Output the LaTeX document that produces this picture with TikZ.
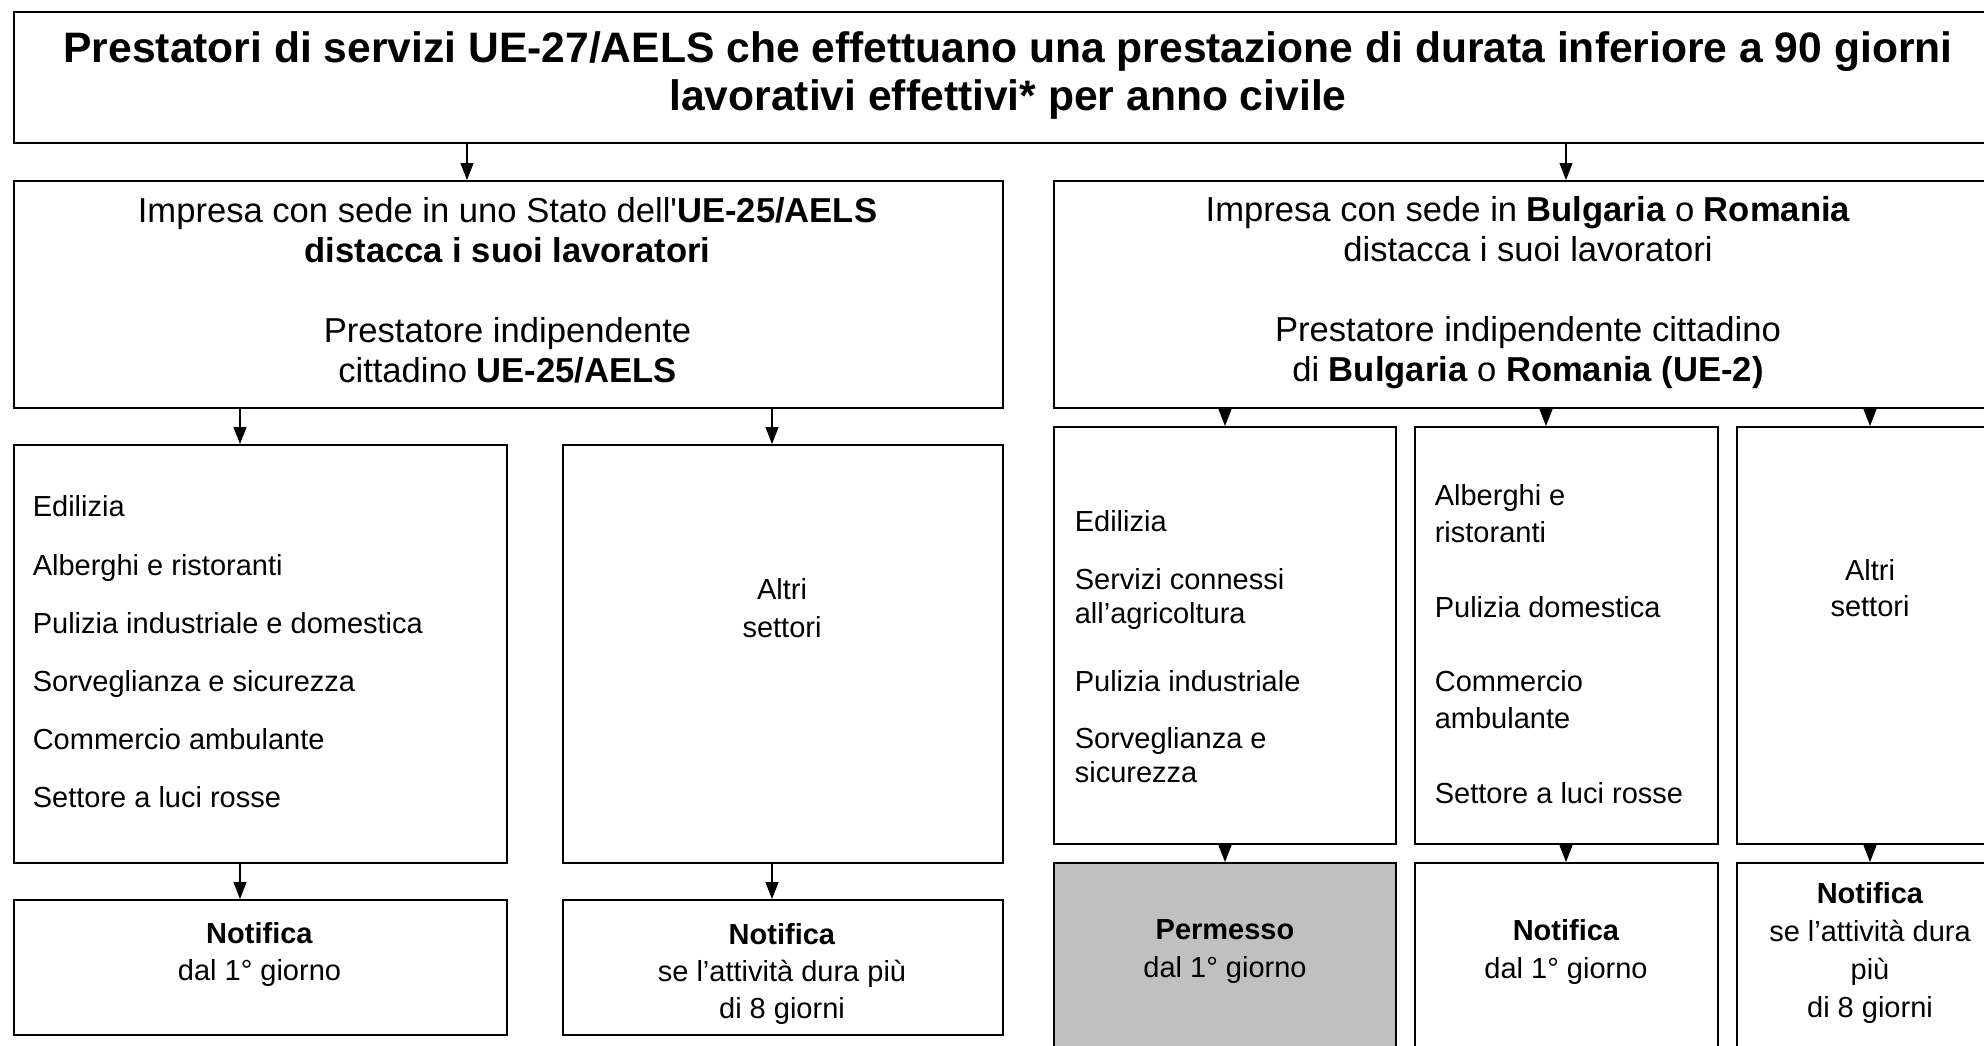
\documentclass[tikz,border=0pt]{standalone}
\usepackage{fontspec}
\setmainfont{Liberation Sans}[Ligatures=TeXOff]
\usepackage{tikz}
\usetikzlibrary{arrows.meta}
\definecolor{grigio}{RGB}{192,192,192}

\newcommand{\fonttitolo}{\fontsize{42.6}{48}\selectfont\bfseries}
\newcommand{\fontgrande}{\fontsize{34.6}{40}\selectfont}
\newcommand{\fontpiccolo}{\fontsize{29}{37}\selectfont}

\begin{document}
\begin{tikzpicture}[x = 1pt, y = -1pt, line width = 1.6pt,
    box/.style = {draw, rectangle, inner sep = 0pt, anchor = north west},
    txt/.style = {inner sep = 0pt, font = \fontpiccolo, align = center},
    freccia/.style = {line width = 1.1pt, -{Triangle[length = 17pt, width = 13pt]}}]
\useasboundingbox (0,0) rectangle (1984,1045);
\clip (0,0) rectangle (1984,1045);
% caselle
\draw (13,11) node[box, minimum width = 1990pt, minimum height = 131pt](t1){}
    (13,180) node[box, minimum width = 989pt, minimum height = 227pt](b1){}
    (1053,180) node[box, minimum width = 950pt, minimum height = 227pt](b2){}
    (13,444) node[box, minimum width = 493pt, minimum height = 418pt](s1){}
    (562,444) node[box, minimum width = 440pt, minimum height = 418pt](s2){}
    (1053,426) node[box, minimum width = 342pt, minimum height = 417pt](s3){}
    (1414,426) node[box, minimum width = 303pt, minimum height = 417pt](s4){}
    (1736,426) node[box, minimum width = 268pt, minimum height = 417pt](s5){}
    (13,899) node[box, minimum width = 493pt, minimum height = 135pt](n1){}
    (562,899) node[box, minimum width = 440pt, minimum height = 135pt](n2){}
    (1053,862) node[box, fill = grigio, minimum width = 342pt, minimum height = 200pt](n3){}
    (1414,862) node[box, minimum width = 303pt, minimum height = 200pt](n4){}
    (1736,862) node[box, minimum width = 268pt, minimum height = 200pt](n5){};
% testi
\draw (1008,75) node[txt, font = \fonttitolo](tt1){Prestatori di servizi UE-27/AELS che effettuano una prestazione di durata inferiore a 90 giorni\\lavorativi effettivi* per anno civile}
    (507.5,290) node[txt, font = \fontgrande](tb1){Impresa con sede in uno Stato dell'\textbf{UE-25/AELS}\\\textbf{distacca i suoi lavoratori}\\[40pt]Prestatore indipendente\\cittadino \textbf{UE-25/AELS}}
    (1528,293) node[txt, font = \fontgrande](tb2){Impresa con sede in \textbf{Bulgaria} o \textbf{Romania}\\distacca i suoi lavoratori\\[40pt]Prestatore indipendente cittadino\\di \textbf{Bulgaria} o \textbf{Romania (UE-2)}}
    (32,652) node[txt, anchor = west, align = left, font = \fontsize{29}{58.2}\selectfont](ts1){Edilizia\\Alberghi e ristoranti\\Pulizia industriale e domestica\\Sorveglianza e sicurezza\\Commercio ambulante\\Settore a luci rosse}
    (782,608.5) node[txt, font = \fontsize{29}{38}\selectfont](ts2){Altri\\settori}
    (1074,646.5) node[txt, anchor = west, align = left, font = \fontsize{29}{34}\selectfont](ts3){Edilizia\\[24pt]Servizi connessi\\all’agricoltura\\[34pt]Pulizia industriale\\[23pt]Sorveglianza e\\sicurezza}
    (1434,644) node[txt, anchor = west, align = left, font = \fontsize{29}{37.3}\selectfont](ts4){Alberghi e\\ristoranti\\[37.3pt]Pulizia domestica\\[37.3pt]Commercio\\ambulante\\[37.3pt]Settore a luci rosse}
    (1870,588.5) node[txt, font = \fontsize{29}{36}\selectfont](ts5){Altri\\settori}
    (259.5,954) node[txt](tn1){\textbf{Notifica}\\dal 1° giorno}
    (782,973.5) node[txt](tn2){\textbf{Notifica}\\se l’attività dura più\\di 8 giorni}
    (1225,952) node[txt, font = \fontsize{29}{38}\selectfont](tn3){\textbf{Permesso}\\dal 1° giorno}
    (1566,952) node[txt, font = \fontsize{29}{38}\selectfont](tn4){\textbf{Notifica}\\dal 1° giorno}
    (1870,953) node[txt, font = \fontsize{29}{38}\selectfont](tn5){\textbf{Notifica}\\se l’attività dura\\più\\di 8 giorni};
% frecce
\coordinate (x1) at (467,0);
\coordinate (x2) at (1566,0);
\coordinate (x3) at (240,0);
\coordinate (x4) at (772,0);
\coordinate (x5) at (1225,0);
\coordinate (x6) at (1546,0);
\coordinate (x7) at (1870,0);
\draw [freccia] (t1.south -| x1) -- (b1.north -| x1);
\draw [freccia] (t1.south -| x2) -- (b2.north -| x2);
\draw [freccia] (b1.south -| x3) -- (s1.north -| x3);
\draw [freccia] (b1.south -| x4) -- (s2.north -| x4);
\draw [freccia] (s1.south -| x3) -- (n1.north -| x3);
\draw [freccia] (s2.south -| x4) -- (n2.north -| x4);
\draw [freccia] (b2.south -| x5) -- (s3.north -| x5);
\draw [freccia] (b2.south -| x6) -- (s4.north -| x6);
\draw [freccia] (b2.south -| x7) -- (s5.north -| x7);
\draw [freccia] (s3.south -| x5) -- (n3.north -| x5);
\draw [freccia] (s4.south -| x2) -- (n4.north -| x2);
\draw [freccia] (s5.south -| x7) -- (n5.north -| x7);
\end{tikzpicture}
\end{document}
